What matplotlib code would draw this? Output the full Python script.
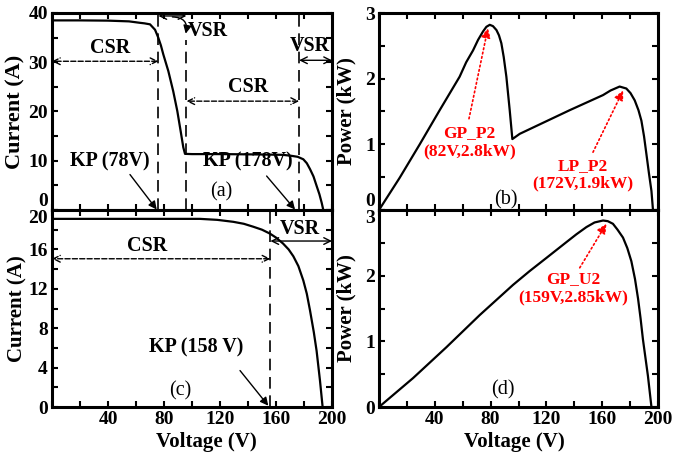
import numpy as np
import matplotlib
matplotlib.use("Agg")
import matplotlib.pyplot as plt

# (a) partially shaded I-V curve
volt_a = [0, 20, 40, 55, 63, 66, 70, 73.6, 75.9, 77.8, 79.5, 83.1, 86.6, 89.5, 91.9, 93.8, 95,
          100, 120, 140, 155, 165, 171, 175.5, 179.5, 182, 184.3, 186.8, 189, 191, 192.6, 193.8]
curr_a = [38.5, 38.5, 38.45, 38.3, 38.0, 37.9, 37.7, 36.6, 35.0, 33.4, 31.6, 28.2, 24.1, 20.1, 16.0, 12.7, 11.4,
          11.35, 11.35, 11.3, 11.25, 11.2, 11.0, 10.8, 10.3, 9.5, 8.3, 6.8, 4.9, 3.2, 1.5, 0]

# (b) partially shaded P-V curve (kW)
volt_b = [0, 14.8, 29.2, 43.5, 57.8, 62.5, 67.4, 71, 74.6, 77, 79.4, 81.7, 84.2, 86, 87.7, 89.4,
          91.3, 93.7, 95.6, 100.9, 136.7, 160.6, 166, 172.5, 177.3, 180.3, 183.3, 186, 188.1,
          190, 191.7, 193.5, 195.3, 196.4]
pow_b = [0, 0.49, 1.0, 1.52, 2.03, 2.25, 2.43, 2.59, 2.72, 2.79, 2.82, 2.8, 2.74, 2.66, 2.54, 2.33,
         2.03, 1.52, 1.08, 1.16, 1.52, 1.75, 1.82, 1.88, 1.85, 1.78, 1.67, 1.52, 1.36,
         1.12, 0.85, 0.56, 0.29, 0]

# (c) uniform irradiance I-V curve
volt_c = [0, 60, 105.7, 118, 129.5, 137, 143.8, 150, 155.7, 160, 165, 169, 172.4, 176,
          179.5, 182, 184.3, 187, 189, 191.4, 193.3]
curr_c = [19.1, 19.1, 19.1, 19.0, 18.8, 18.6, 18.3, 18.0, 17.6, 17.2, 16.6, 16.0, 15.3, 14.3,
          12.85, 11.5, 9.8, 7.6, 5.7, 2.7, 0]

# (d) uniform irradiance P-V curve (kW)
volt_d = [0, 24.4, 48.3, 72.2, 96.1, 108, 120, 134.3, 141.5, 148.7, 154.5, 160.6, 164,
          167.7, 171, 174.9, 178, 180.9, 183.5, 185.7, 187.5, 189.2, 191, 192.8, 195.3]
pow_d = [0, 0.44, 0.91, 1.40, 1.86, 2.07, 2.27, 2.51, 2.63, 2.74, 2.81, 2.84, 2.83,
         2.79, 2.7, 2.58, 2.42, 2.22, 1.95, 1.65, 1.35, 1.03, 0.75, 0.47, 0]

# knee points / region borders (V)
kp_a = [76, 176.5]
vsr_edge_a = 96
kp_c = 156

plt.rcParams['font.family'] = ['Liberation Serif', 'DejaVu Serif']
plt.rcParams['font.weight'] = 'bold'
plt.rcParams['axes.labelweight'] = 'bold'

W, H = 675, 459
fig = plt.figure(figsize=(W / 100, H / 100), dpi=100)


def px_axes(x0, y0, x1, y1):
    return fig.add_axes([x0 / W, 1 - y1 / H, (x1 - x0) / W, (y1 - y0) / H])


ax_a = px_axes(52, 13, 332, 210)
ax_b = px_axes(379, 13, 658, 210)
ax_c = px_axes(52, 210, 332, 407)
ax_d = px_axes(379, 210, 658, 407)

xticks = np.arange(0, 201, 20)
xlabels = ['' if (v == 0 or v % 40) else str(v) for v in xticks]


def style(ax, ymax, ystep, ylab_every, show_x):
    ax.set_xlim(0, 200)
    ax.set_ylim(0, ymax)
    ax.set_xticks(xticks)
    ax.set_xticklabels(xlabels if show_x else [''] * len(xticks))
    yt = np.arange(0, ymax + 1e-9, ystep)
    ylab = []
    for i, v in enumerate(yt):
        if i % ylab_every:
            ylab.append('')
        else:
            ylab.append('%g' % v)
    ax.set_yticks(yt)
    ax.set_yticklabels(ylab)
    ax.tick_params(direction='in', top=True, right=True, length=4, width=1.5,
                   labelsize=14, pad=3)
    for s in ax.spines.values():
        s.set_linewidth(2.2)


style(ax_a, 40, 5, 2, False)
style(ax_b, 3, 0.5, 2, False)
style(ax_c, 20, 2, 2, True)
style(ax_d, 3, 0.5, 2, True)

# nudge labels where the rows meet
ax_a.get_yticklabels()[0].set_va('bottom')
ax_b.get_yticklabels()[0].set_va('bottom')
ax_c.get_yticklabels()[-1].set_va('top')
ax_d.get_yticklabels()[-1].set_va('top')

for ax, v, y in [(ax_a, volt_a, curr_a), (ax_b, volt_b, pow_b),
                 (ax_c, volt_c, curr_c), (ax_d, volt_d, pow_d)]:
    ax.plot(v, y, color='black', lw=1.6, solid_joinstyle='round')

ax_a.set_ylabel('Current (A)', fontsize=16)
ax_c.set_ylabel('Current (A)', fontsize=15)
ax_b.set_ylabel('Power (kW)', fontsize=15)
ax_d.set_ylabel('Power (kW)', fontsize=15)
ax_c.set_xlabel('Voltage (V)', fontsize=15)
ax_d.set_xlabel('Voltage (V)', fontsize=15)
ax_a.yaxis.set_label_coords(-0.093, 0.5)
ax_c.yaxis.set_label_coords(-0.089, 0.5)
for ax in (ax_b, ax_d):
    ax.yaxis.set_label_coords(-0.079, 0.5)
ax_c.xaxis.set_label_coords(0.553, -0.125)
ax_d.xaxis.set_label_coords(0.484, -0.125)

dash = (0, (7, 4))
txt = dict(fontsize=14.5, fontweight='bold', ha='center', va='center')
red = dict(fontsize=12.5, fontweight='bold', ha='center', va='center',
           color='red', linespacing=1.15)


def darrow(ax, x0, x1, y, ls='-'):
    ax.annotate('', xy=(x0, y), xytext=(x1, y),
                arrowprops=dict(arrowstyle='<->', lw=1.0, ls=ls, color='black',
                                shrinkA=0, shrinkB=0, mutation_scale=12))


def kp_arrow(ax, start, tip):
    ax.annotate('', xy=tip, xytext=start,
                arrowprops=dict(arrowstyle='-|>', lw=1.0, color='black',
                                shrinkA=0, shrinkB=0, mutation_scale=12))


def red_arrow(ax, start, tip):
    ax.annotate('', xy=tip, xytext=start,
                arrowprops=dict(arrowstyle='-|>', lw=1.2, ls=':', color='red',
                                shrinkA=0, shrinkB=0, mutation_scale=14))


# (a) annotations
ax_a.plot([kp_a[0]] * 2, [0, 40], color='black', lw=1.2, ls=dash)
ax_a.plot([vsr_edge_a] * 2, [0, 34.5], color='black', lw=1.2, ls=dash)
ax_a.plot([kp_a[1]] * 2, [0, 40], color='black', lw=1.2, ls=dash)
darrow(ax_a, 0, kp_a[0], 30.2, ls='--')
ax_a.text(41.4, 32.9, 'CSR', **txt)
darrow(ax_a, kp_a[0], vsr_edge_a, 39.4)
ax_a.annotate('', xy=(95.5, 35.8), xytext=(86, 39.2),
              arrowprops=dict(arrowstyle='-|>', lw=1.0, color='black', shrinkA=0,
                              shrinkB=0, mutation_scale=12,
                              connectionstyle='arc3,rad=-0.6'))
ax_a.text(111.6, 36.3, 'VSR', **txt)
darrow(ax_a, vsr_edge_a, kp_a[1], 22.1, ls='--')
ax_a.text(140.2, 24.9, 'CSR', **txt)
darrow(ax_a, kp_a[1], 200, 30.4)
ax_a.text(184, 33.4, 'VSR', **txt)
ax_a.text(41.4, 9.9, 'KP (78V)', **txt)
kp_arrow(ax_a, (55.7, 7.2), (74.8, 0.1))
ax_a.text(140.2, 9.9, 'KP (178V)', **txt)
kp_arrow(ax_a, (153.3, 6.9), (173.6, 0.1))
ax_a.text(121.2, 3.7, '(a)', fontsize=14.5, fontweight='normal', ha='center', va='center')

# (b) annotations
ax_b.text(65, 1.03, 'GP_P2\n(82V,2.8kW)', **red)
red_arrow(ax_b, (64.5, 1.39), (78.1, 2.77))
ax_b.text(146.3, 0.54, 'LP_P2\n(172V,1.9kW)', **red)
red_arrow(ax_b, (153.4, 0.88), (175, 1.82))
ax_b.text(91.3, 0.15, '(b)', fontsize=14.5, fontweight='normal', ha='center', va='center')

# (c) annotations
ax_c.plot([kp_c] * 2, [0, 20], color='black', lw=1.2, ls=dash)
darrow(ax_c, 0, kp_c, 15.05, ls='--')
ax_c.text(67.6, 16.3, 'CSR', **txt)
darrow(ax_c, kp_c, 200, 16.85)
ax_c.text(177.1, 18.1, 'VSR', **txt)
ax_c.text(103.3, 6.07, 'KP (158 V)', **txt)
kp_arrow(ax_c, (134.3, 3.7), (154.5, 0.13))
ax_c.text(91.4, 1.66, '(c)', fontsize=14.5, fontweight='normal', ha='center', va='center')

# (d) annotations
ax_d.text(139.1, 1.81, 'GP_U2\n(159V,2.85kW)', **red)
red_arrow(ax_d, (143.9, 2.12), (163, 2.79))
ax_d.text(88.5, 0.26, '(d)', fontsize=14.5, fontweight='normal', ha='center', va='center')

fig.savefig('out.png', dpi=100)
